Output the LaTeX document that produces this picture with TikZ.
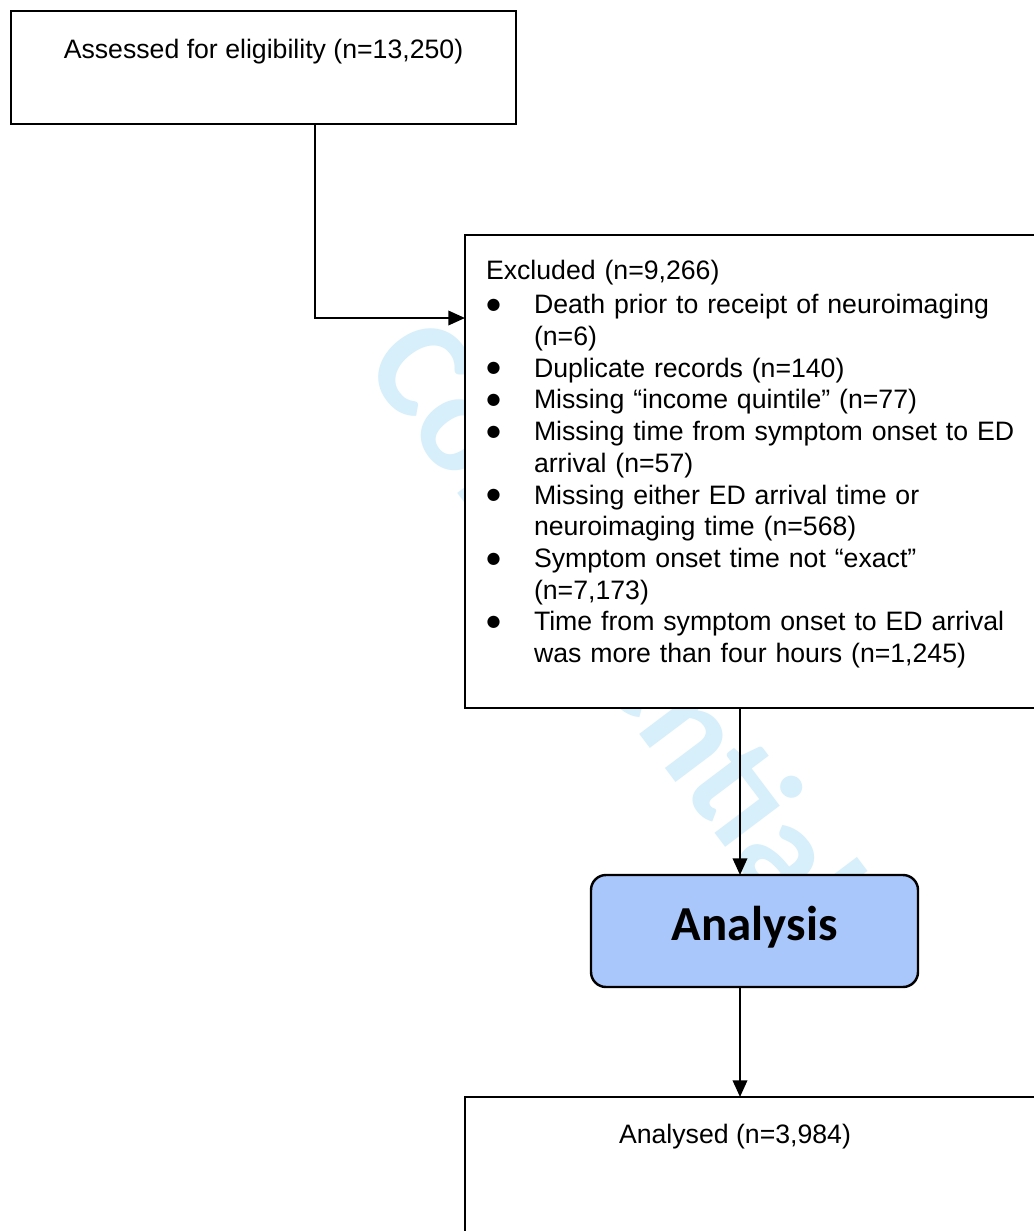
\documentclass[tikz,border=0pt]{standalone}
\usepackage{fontspec}
\setmainfont{Liberation Sans}
\newfontfamily\carlito{Carlito}
\newfontfamily\djv{DejaVu Sans}
\usetikzlibrary{arrows.meta}
\newlength\pxu
\setlength\pxu{0.45pt}
\definecolor{wmcol}{RGB}{214,239,251}
\definecolor{anfill}{RGB}{169,199,250}
\newcommand{\bitem}[1]{\par\hangindent=48\pxu\hangafter=1\noindent\makebox[48\pxu][l]{\hspace*{0.5\pxu}\raisebox{1.9pt}{\djv\fontsize{7.2pt}{8pt}\selectfont ●}}#1\par}
\begin{document}
\begin{tikzpicture}[x=0.45pt,y=-0.45pt,
  every node/.style={outer sep=0pt},
  txtfont/.style={font=\fontsize{12pt}{14.28pt}\selectfont},
  plainbox/.style={draw=black, line width=0.8pt, fill=white, inner xsep=0pt, inner ysep=0pt, txtfont},
  analysisbox/.style={draw=black, line width=1.1pt, fill=anfill, rounded corners=6.75pt, inner xsep=0pt, inner ysep=0pt, font=\carlito\bfseries\fontsize{22pt}{26pt}\selectfont},
  watermark/.style={text=wmcol, inner sep=0pt, font=\carlito\bfseries\fontsize{64pt}{70pt}\selectfont},
  flowarrow/.style={line width=1pt, -{Triangle[length=7.5pt,width=6.5pt]}}]
\useasboundingbox (0,0) rectangle (1034,1231);
\clip (0,0) rectangle (1034,1231);
\fill[white] (0,0) rectangle (1034,1231);
\node[watermark, rotate=-53] (wm) at (617,622) {Confidential};
\node[plainbox, anchor=north west, minimum width=227.25pt, text height=21.15pt, text depth=29.7pt] (assessed) at (11,11) {Assessed for eligibility (n=13,250)};
\node[plainbox, anchor=north west, inner xsep=9.45pt, text width=252pt, align=left, text height=19.8pt, text depth=193.05pt] (excluded) at (465,235) {Excluded (n=9,266)\par\vspace{1.3pt}
\bitem{Death prior to receipt of neuroimaging\newline (n=6)}
\bitem{Duplicate records (n=140)}
\bitem{Missing “income quintile” (n=77)}
\bitem{Missing time from symptom onset to ED\newline arrival (n=57)}
\bitem{Missing either ED arrival time or\newline neuroimaging time (n=568)}
\bitem{Symptom onset time not “exact”\newline (n=7,173)}
\bitem{Time from symptom onset to ED arrival\newline was more than four hours (n=1,245)}};
\node[analysisbox, anchor=north west, minimum width=147.15pt, text height=29.25pt, text depth=21.15pt] (analysis) at (591,875) {Analysis};
\node[plainbox, anchor=north west, text height=20.7pt, text depth=117pt] (analysed) at (465,1097) {\makebox[243pt][c]{Analysed (n=3,984)}\hspace*{135pt}};
\coordinate (c0) at ([xshift=23.2pt]assessed.south);
\coordinate (c1) at ([xshift=123.75pt]excluded.south west);
\coordinate (c2) at (c1 |- analysis.south);
\coordinate (c3) at ([yshift=-37.35pt]excluded.north west);
\draw[flowarrow] (c0) |- (c3);
\draw[flowarrow] (c1) -- (c1 |- analysis.north);
\draw[flowarrow] (c2) -- (c2 |- analysed.north);
\end{tikzpicture}
\end{document}
